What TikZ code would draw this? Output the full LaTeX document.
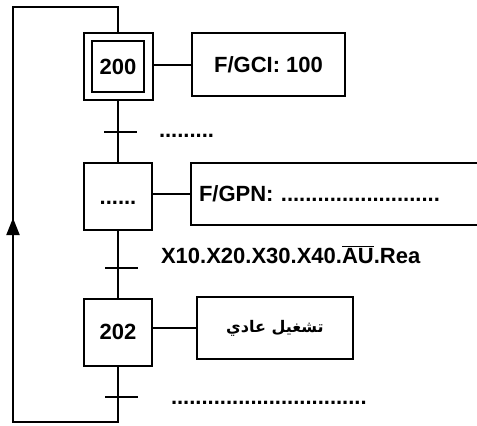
\documentclass[tikz,border=0pt]{standalone}
\usepackage{fontspec}
\setmainfont{Liberation Sans}
\newfontfamily\arabicfont[Script=Arabic]{DejaVu Sans}
\TeXXeTstate=1
\usetikzlibrary{
    arrows.meta,
    positioning
}
\tikzset{
    txt/.style={font=\bfseries\fontsize{22}{26}\selectfont},
    stepbox/.style={draw, txt, minimum width=68pt, minimum height=67pt, inner sep=0pt, text height=15.8pt, text depth=0pt},
    actbox/.style={draw, txt, minimum height=63pt, inner sep=0pt},
    trans/.style={fill, minimum width=33pt, minimum height=2pt, inner sep=0pt},
    cond/.style={txt, anchor=base west, inner sep=0pt}
}

\begin{document}
\begin{tikzpicture}[x=1pt, y=-1pt, line width=2pt]
\useasboundingbox (0,0) rectangle (477,426);
\clip (0,0) rectangle (477,426);

% etapes
\node[stepbox, minimum width=69pt, minimum height=67pt] (s200) at (118,66.5) {};
\node[stepbox, minimum width=52pt, minimum height=51pt] (i200) at (s200.center) {200};
\node[stepbox] (s201) at (118,196.5) {......};
\node[stepbox] (s202) at (118,332) {202};

% actions
\node[actbox, minimum width=153pt] (a200) at (268.5,64.5) {F/GCI: 100};
\node[actbox, minimum height=62pt, anchor=west, inner xsep=8pt, text width=284pt, align=left] (a201) at (190,194) {F/GPN: ..........................};
\node[actbox, minimum width=156pt, minimum height=62pt, font=\bfseries\fontsize{16}{20}\selectfont] (a202) at (275,328) {\arabicfont\beginR تشغيل عادي\endR};

\draw (a200.west) -- (a200.west -| s200.east);
\draw (a201.west) -- (a201.west -| s201.east);
\draw (a202.west) -- (a202.west -| s202.east);

% transitions
\node[trans] (t1) at (120.5,132) {};
\node[trans] (t2) at (121,268) {};
\node[trans] (t3) at (121.5,397) {};

\node[cond] (c1) at (158,137) {.........};
\node[cond] (c2) at (160,263) {X10.X20.X30.X40.$\overline{\hbox{AU}}$.Rea};
\node[cond] (c3) at (170,404) {................................};

% liaisons
\draw (s200.south) -- (s201.north);
\draw (s201.south) -- (s202.north);

\coordinate (bot) at (13,422);
\coordinate (top) at (13,7);
\coordinate (arr) at (13,218);
\draw (s202.south) |- (bot) -- (top) -| (s200.north);
\draw[-{Triangle[width=13pt,length=17pt]}] (bot) -- (arr);
\end{tikzpicture}
\end{document}
